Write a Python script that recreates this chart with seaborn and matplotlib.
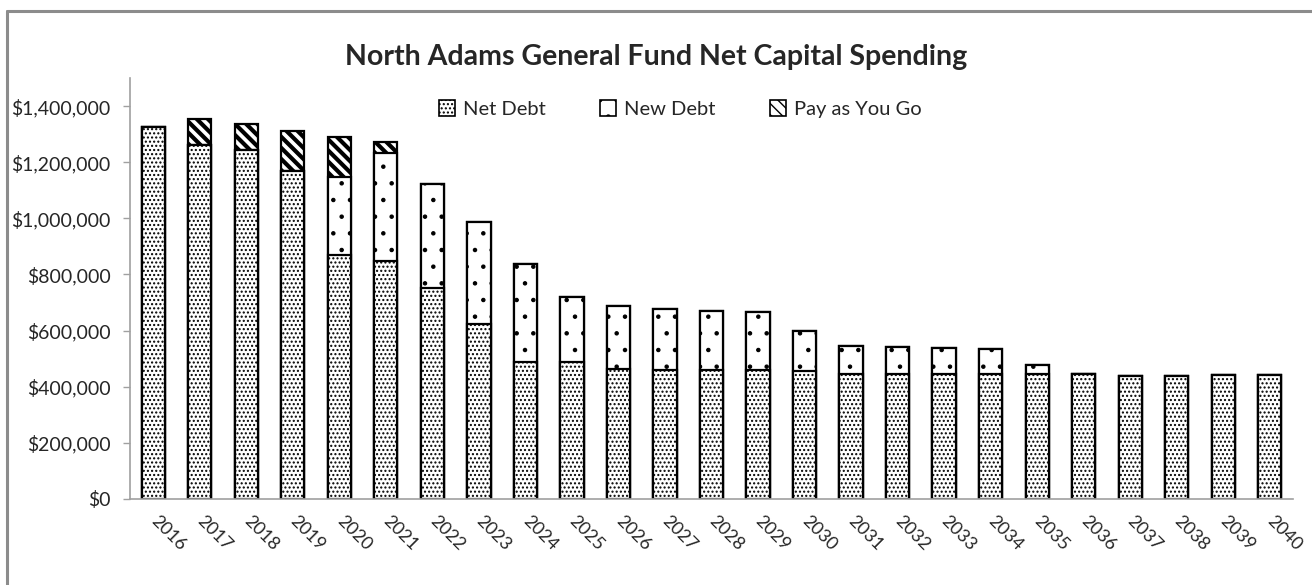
import matplotlib
matplotlib.use("Agg")
import matplotlib.pyplot as plt
import matplotlib.patches as mpatches
from matplotlib.lines import Line2D
import pandas as pd
import seaborn as sns

years = [str(y) for y in range(2016, 2041)]
net_debt = [1326000, 1262000, 1243000, 1168000, 869000, 848000, 753000, 624000,
            488000, 488000, 462000, 459000, 459000, 459000, 456000, 447000,
            447000, 447000, 447000, 447000, 446000, 438000, 440000, 442000, 442000]
new_debt = [0, 0, 0, 0, 279000, 383000, 369000, 362000,
            350000, 233000, 227000, 219000, 212000, 206000, 144000, 98000,
            93000, 91000, 88000, 31000, 0, 0, 0, 0, 0]
pay_go = [0, 92000, 93000, 143000, 142000, 42000, 0, 0,
          0, 0, 0, 0, 0, 0, 0, 0,
          0, 0, 0, 0, 0, 0, 0, 0, 0]
series_names = ["Net Debt", "New Debt", "Pay as You Go"]
y_ticks = list(range(0, 1400001, 200000))

df = pd.DataFrame({"year": years, "net": net_debt, "new": new_debt, "paygo": pay_go})
df["lvl1"] = df["net"]
df["lvl2"] = df["net"] + df["new"]
df["lvl3"] = df["lvl2"] + df["paygo"]

sns.set_style("white")
plt.rcParams["font.family"] = ["Lato", "DejaVu Sans"]
plt.rcParams["hatch.linewidth"] = 1.0
plt.rcParams["hatch.color"] = "#555555"

fig = plt.figure(figsize=(13.12, 5.85), dpi=100)
ax = fig.add_axes([130 / 1312, 1 - 499 / 585, (1293 - 130) / 1312, (499 - 78) / 585])

# tallest layer first, shorter ones drawn over it
hatches = {"lvl3": "\\\\\\", "lvl2": ".", "lvl1": "...."}
hatch_lw = {"lvl3": 3.0, "lvl2": 0.8, "lvl1": 1.0}
for col in ["lvl3", "lvl2", "lvl1"]:
    n_before = len(ax.patches)
    sns.barplot(data=df, x="year", y=col, ax=ax, color="white", width=0.5,
                edgecolor="black", linewidth=1.6, hatch=hatches[col], errorbar=None)
    for p in ax.patches[n_before:]:
        if hasattr(p, "set_hatch_linewidth"):
            p.set_hatch_linewidth(hatch_lw[col])
        if col == "lvl3" and hasattr(p, "set_hatchcolor"):
            p.set_hatchcolor("#222222")

ax.set_xlim(-0.5, 24.5)
ax.set_ylim(0, 1500000)
ax.set_yticks(y_ticks)
ax.set_yticklabels([f"${v:,.0f}" for v in y_ticks], fontsize=14)
ax.set_xlabel("")
ax.set_ylabel("")
ax.tick_params(axis="y", length=5, color="#a0a0a0", width=1, left=True, pad=9)
ax.tick_params(axis="x", length=0, pad=14)
for lab in ax.get_xticklabels():
    lab.set_rotation(-45)
    lab.set_ha("left")
    lab.set_va("center")
    lab.set_rotation_mode("anchor")
    lab.set_fontsize(13)

sns.despine(ax=ax)
for s in ["left", "bottom"]:
    ax.spines[s].set_color("#a0a0a0")
    ax.spines[s].set_linewidth(1.2)

fig.text(656 / 1312, 1 - 57 / 585, "North Adams General Fund Net Capital Spending",
         ha="center", va="center", fontsize=20.5, fontweight="bold")

handles = []
for c in ["lvl1", "lvl2", "lvl3"]:
    h = mpatches.Patch(facecolor="white", edgecolor="black", hatch=hatches[c], linewidth=1.2)
    if hasattr(h, "set_hatch_linewidth"):
        h.set_hatch_linewidth(hatch_lw[c])
    handles.append(h)
fig.legend(handles, series_names, loc="center", bbox_to_anchor=(680 / 1312, 1 - 109 / 585),
           ncol=3, frameon=False, fontsize=14.5, handlelength=0.8, handleheight=0.8,
           handletextpad=0.4, columnspacing=2.7)

# chart border (clipped by the image on the right and bottom)
fig.add_artist(Line2D([7 / 1312, 1.0], [1 - 11 / 585, 1 - 11 / 585], color="#8c8c8c", lw=2.2,
                      transform=fig.transFigure))
fig.add_artist(Line2D([7 / 1312, 7 / 1312], [0, 1 - 11 / 585], color="#8c8c8c", lw=2.2,
                      transform=fig.transFigure))

fig.savefig("out.png", dpi=100)
